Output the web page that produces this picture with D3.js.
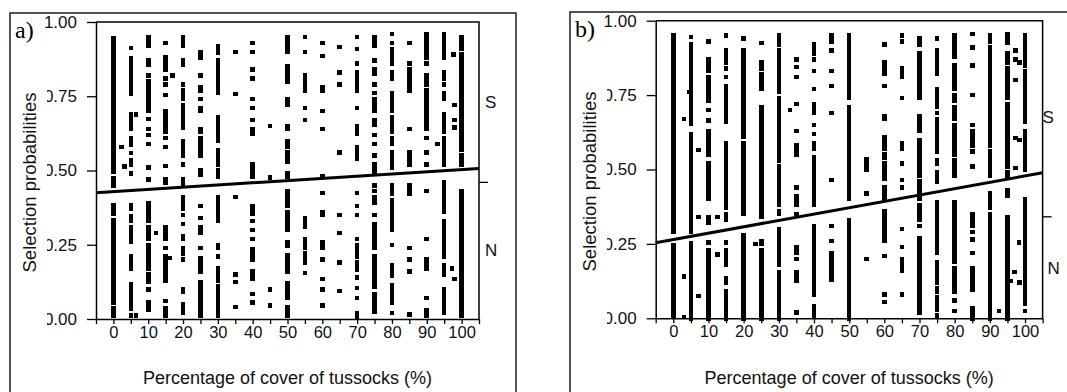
<!DOCTYPE html>
<html>
<head>
<meta charset="utf-8">
<script src="https://cdn.jsdelivr.net/npm/d3@7"></script>
<style>
  body { margin: 0; background: #fff; }
  svg { display: block; }
</style>
</head>
<body>
<svg id="chart" width="1067" height="392"></svg>
<script>
// cover classes (%) on which the observations sit
const coverLevels = [0, 5, 10, 15, 20, 25, 30, 35, 40, 45, 50, 55, 60, 65, 70, 75, 80, 85, 90, 95, 100];
const xTickValues = [-5, 0, 5, 10, 15, 20, 25, 30, 35, 40, 45, 50, 55, 60, 65, 70, 75, 80, 85, 90, 95, 100, 105];
const yTickValues = [0, 0.25, 0.5, 0.75, 1];

// runs of stacked points per cover class: [upper, lower] probability or a single value
const runsA = [
  [[0.946, 0.497], [0.475, 0.450], [0.383, 0.354], [0.331, 0.282], [0.268, 0.139], [0.124, 0.053], [0.035, 0.012]],
  [0.912, [0.879, 0.757], [0.688, 0.64], [0.61, 0.585], 0.559, [0.536, 0.518], 0.49, [0.383, 0.37], [0.345, 0.33], [0.31, 0.26], 0.21, [0.195, 0.17], [0.117, 0.06], [0.048, 0.035], 0.012],
  [[0.95, 0.92], [0.87, 0.855], 0.82, [0.80, 0.776], [0.76, 0.735], [0.72, 0.70], 0.674, 0.64, 0.62, 0.59, 0.51, 0.47, [0.39, 0.33], [0.31, 0.27], [0.25, 0.21], [0.20, 0.17], [0.15, 0.125], 0.10, [0.055, 0.03]],
  [0.93, [0.88, 0.84], 0.81, 0.79, 0.755, [0.70, 0.63], 0.61, 0.58, 0.516, [0.47, 0.46], [0.31, 0.27], 0.24, [0.21, 0.18], [0.17, 0.13], 0.06, [0.035, 0.01]],
  [[0.95, 0.92], [0.87, 0.855], 0.79, [0.77, 0.74], [0.72, 0.68], [0.67, 0.645], [0.60, 0.55], 0.52, [0.47, 0.455], [0.41, 0.37], 0.35, 0.32, [0.28, 0.27], [0.24, 0.22], 0.20, [0.10, 0.09], [0.05, 0.02]],
  [[0.90, 0.88], 0.82, [0.78, 0.77], 0.74, [0.71, 0.70], [0.64, 0.63], [0.61, 0.55], [0.50, 0.485], 0.38, 0.34, [0.31, 0.29], 0.24, [0.205, 0.16], [0.125, 0.075], [0.06, 0.01]],
  [[0.92, 0.895], [0.87, 0.82], [0.81, 0.76], [0.68, 0.63], [0.62, 0.60], [0.57, 0.52], [0.50, 0.48], [0.41, 0.38], [0.37, 0.33], [0.25, 0.24], 0.21, [0.17, 0.13], [0.11, 0.09], [0.085, 0.01]],
  [0.90, 0.757, 0.41, 0.15, 0.125, 0.04],
  [0.93, 0.90, 0.84, 0.81, 0.74, 0.71, 0.67, [0.64, 0.625], [0.52, 0.48], [0.38, 0.355], 0.33, 0.30, 0.27, [0.235, 0.20], [0.16, 0.135], 0.085, 0.055],
  [0.65, 0.476, 0.10, 0.045],
  [[0.95, 0.90], [0.85, 0.80], [0.74, 0.72], [0.65, 0.64], [0.60, 0.58], [0.56, 0.53], [0.49, 0.48], [0.43, 0.38], [0.36, 0.30], [0.26, 0.245], [0.215, 0.16], [0.12, 0.07], [0.04, 0.01]],
  [0.95, 0.90, [0.82, 0.77], 0.71, 0.67, [0.34, 0.31], [0.27, 0.24], [0.22, 0.19], 0.155],
  [0.93, 0.885, [0.78, 0.77], 0.70, 0.64, 0.48, 0.425, [0.36, 0.35], [0.26, 0.24], 0.20, 0.135, 0.10, 0.045],
  [0.915, 0.83, 0.79, 0.56, 0.35, 0.29, 0.19, 0.095],
  [0.95, 0.91, 0.86, [0.83, 0.77], 0.71, [0.65, 0.625], [0.58, 0.54], 0.425, 0.38, 0.35, 0.27, [0.25, 0.21], [0.19, 0.165], 0.14, 0.105, 0.07, [0.02, 0.005]],
  [[0.95, 0.92], 0.87, [0.84, 0.825], 0.79, 0.76, [0.74, 0.70], [0.67, 0.655], 0.62, 0.59, 0.55, [0.52, 0.49], 0.45, 0.43, [0.41, 0.39], 0.35, [0.32, 0.24], 0.21, [0.20, 0.11], [0.085, 0.025]],
  [0.96, 0.93, [0.91, 0.86], [0.83, 0.81], [0.76, 0.74], [0.73, 0.70], [0.68, 0.63], [0.61, 0.59], [0.56, 0.51], [0.45, 0.42], [0.40, 0.30], 0.25, [0.18, 0.145], [0.115, 0.10], [0.085, 0.055], 0.02],
  [0.93, 0.86, [0.84, 0.80], [0.79, 0.77], 0.64, [0.56, 0.52], [0.45, 0.42], 0.24, 0.20, 0.16, 0.015],
  [[0.96, 0.92], [0.91, 0.88], 0.86, [0.82, 0.79], [0.77, 0.74], [0.73, 0.70], [0.69, 0.67], [0.66, 0.64], 0.61, 0.56, 0.52, 0.43, 0.27, [0.20, 0.17], 0.07, [0.03, 0.01]],
  [[0.96, 0.92], [0.91, 0.88], [0.83, 0.81], 0.79, [0.76, 0.74], [0.69, 0.63], [0.61, 0.57], [0.56, 0.52], [0.46, 0.36], [0.33, 0.31], [0.30, 0.21], [0.18, 0.15], [0.10, 0.02]],
  [[0.95, 0.91], [0.89, 0.875], [0.865, 0.72], [0.71, 0.57], [0.55, 0.52], [0.43, 0.30], [0.29, 0.13], [0.12, 0.01]]
];
// single points off the cover classes: [cover, probability]
const extrasA = [[6.5, 0.688], [2.4, 0.58], [3.1, 0.513], [6.5, 0.012], [12.2, 0.29], [16.9, 0.82], [16.3, 0.205],
  [93.1, 0.59], [97.6, 0.89], [98, 0.72], [98, 0.67], [98, 0.645], [97.3, 0.17], [98, 0.135]];
const fitA = [[-5, 0.425], [105, 0.507]];
const cutA = 0.46;

const runsB = [
  [[0.95, 0.29], [0.245, 0.005]],
  [0.945, [0.92, 0.655], [0.62, 0.55], [0.54, 0.29], [0.254, 0.0]],
  [0.93, [0.87, 0.83], [0.81, 0.73], 0.70, 0.665, [0.63, 0.61], [0.60, 0.55], [0.52, 0.40], [0.34, 0.32], 0.255, [0.23, 0.0]],
  [0.95, [0.90, 0.86], 0.84, 0.81, [0.78, 0.66], [0.59, 0.37], [0.35, 0.33], 0.255, [0.23, 0.18], [0.135, 0.12], [0.09, 0.06], [0.05, 0.0]],
  [0.94, [0.90, 0.61], [0.59, 0.35], [0.28, 0.26], [0.245, 0.19], [0.18, 0.11], [0.10, 0.0]],
  [0.925, [0.86, 0.84], [0.82, 0.77], [0.71, 0.34], [0.26, 0.25], [0.23, 0.0]],
  [[0.95, 0.92], [0.90, 0.76], [0.74, 0.62], [0.61, 0.53], [0.51, 0.38], [0.36, 0.35], [0.30, 0.18], [0.155, 0.0]],
  [0.87, 0.845, 0.81, 0.72, 0.63, [0.58, 0.55], 0.44, [0.41, 0.38], 0.35, [0.24, 0.22], 0.20, [0.155, 0.125], 0.02],
  [[0.92, 0.89], 0.87, 0.83, 0.77, [0.72, 0.69], 0.65, 0.62, [0.59, 0.57], [0.54, 0.44], [0.43, 0.38], [0.31, 0.08], [0.04, 0.005]],
  [[0.95, 0.93], 0.90, 0.83, 0.78, 0.69, 0.465, 0.31, 0.26, [0.22, 0.13]],
  [[0.95, 0.89], [0.88, 0.74], [0.71, 0.67], [0.66, 0.40], [0.33, 0.0]],
  [[0.535, 0.50], 0.42, 0.20],
  [0.92, [0.86, 0.82], 0.78, [0.68, 0.67], [0.61, 0.57], [0.55, 0.54], [0.52, 0.47], [0.44, 0.40], [0.36, 0.26], 0.21, 0.08, 0.055],
  [0.95, 0.93, [0.84, 0.81], 0.74, [0.59, 0.57], 0.52, 0.465, 0.44, 0.30, 0.24, [0.20, 0.16], 0.08],
  [[0.94, 0.92], [0.89, 0.74], [0.68, 0.63], [0.60, 0.58], [0.57, 0.52], [0.51, 0.48], [0.46, 0.40], [0.38, 0.33], 0.31, [0.27, 0.14], [0.135, 0.02]],
  [0.94, [0.90, 0.82], [0.77, 0.71], 0.69, [0.67, 0.61], [0.60, 0.56], [0.53, 0.52], [0.49, 0.46], [0.39, 0.22], [0.19, 0.12], [0.10, 0.09], [0.07, 0.03], 0.01],
  [[0.95, 0.88], [0.85, 0.77], [0.75, 0.73], [0.71, 0.67], [0.65, 0.63], [0.62, 0.60], [0.59, 0.55], [0.53, 0.48], [0.39, 0.19], [0.17, 0.09], 0.06, 0.025],
  [0.955, 0.91, 0.85, 0.75, 0.65, [0.63, 0.58], 0.56, 0.51, [0.35, 0.31], 0.29, 0.265, 0.22, [0.17, 0.095], [0.035, 0.0]],
  [[0.95, 0.93], [0.91, 0.88], [0.87, 0.67], [0.665, 0.58], [0.56, 0.48], [0.42, 0.37], [0.35, 0.17], [0.16, 0.0]],
  [[0.955, 0.925], [0.89, 0.86], [0.84, 0.79], [0.775, 0.74], [0.72, 0.67], [0.66, 0.60], [0.59, 0.51], [0.49, 0.48], [0.43, 0.41], [0.34, 0.32], [0.31, 0.06], [0.05, 0.0]],
  [[0.95, 0.85], [0.83, 0.78], [0.77, 0.66], [0.63, 0.50], [0.40, 0.35], [0.34, 0.27], [0.265, 0.095], [0.09, 0.05], 0.025]
];
const extrasB = [[4.5, 0.76], [3.0, 0.67], [7.1, 0.565], [7.1, 0.34], [3.0, 0.14], [3.0, 0.005], [7.1, 0.075],
  [12.6, 0.34], [12.6, 0.215], [23.3, 0.25], [33.2, 0.70],
  [97.3, 0.90], [97.3, 0.87], [98.4, 0.86], [97.3, 0.80], [97.3, 0.605], [98.4, 0.60], [97.3, 0.505],
  [98.3, 0.255], [97, 0.155], [96, 0.125], [98.4, 0.12], [92.6, 0.025]];
const fitB = [[-5, 0.254], [105, 0.489]];
const cutB = 0.341;

const SANS = '"Liberation Sans", Arial, Helvetica, sans-serif';
const SERIF = '"Liberation Serif", "Times New Roman", serif';

const svg = d3.select('#chart');

const panels = [
  { tag: 'a)', runs: runsA, extras: extrasA, fit: fitA, cut: cutA,
    frame: { x: 10, y: 13, w: 506 }, left: 96, right: 479, top: 22, bottom: 319,
    sY: 101.7, nY: 250, sX: 485, nX: 485 },
  { tag: 'b)', runs: runsB, extras: extrasB, fit: fitB, cut: cutB,
    frame: { x: 570, y: 12, w: 520 }, left: 655.7, right: 1042.6, top: 20.7, bottom: 318.3,
    sY: 116.7, nY: 268.3, sX: 1042.5, nX: 1047.5 }
];

panels.forEach(drawPanel);

function drawPanel(p) {
  const x = d3.scaleLinear().domain([-5, 105]).range([p.left, p.right]);
  const y = d3.scaleLinear().domain([0, 1]).range([p.bottom, p.top]);
  const g = svg.append('g');

  // outer frame (bottom edge runs off the picture)
  g.append('rect')
    .attr('x', p.frame.x).attr('y', p.frame.y)
    .attr('width', p.frame.w).attr('height', 420)
    .attr('fill', 'none').attr('stroke', '#2b2b2b').attr('stroke-width', 1.6);

  // point stacks
  const marks = p.runs.flatMap((col, i) => col.map((r) => {
    const [a, b] = typeof r === 'number' ? [r, r] : r;
    return { x: coverLevels[i], hi: Math.max(a, b), lo: Math.min(a, b) };
  })).concat(p.extras.map(([cx, cy]) => ({ x: cx, hi: cy, lo: cy })));

  g.append('g')
    .selectAll('rect')
    .data(marks)
    .join('rect')
    .attr('x', (d) => x(d.x) - 2.3)
    .attr('width', 4.6)
    .attr('y', (d) => y(d.hi) - 2.2)
    .attr('height', (d) => y(d.lo) - y(d.hi) + 4.4)
    .attr('fill', '#000')
    .attr('shape-rendering', 'crispEdges');

  // fitted line
  g.append('path')
    .datum(p.fit)
    .attr('d', d3.line().x((d) => x(d[0])).y((d) => y(d[1])))
    .attr('fill', 'none').attr('stroke', '#000').attr('stroke-width', 3);

  // top and right edges of the plot box
  g.append('path')
    .attr('d', `M${p.left},${p.top}H${p.right}V${p.bottom}`)
    .attr('fill', 'none').attr('stroke', '#000').attr('stroke-width', 1.5);

  const xAxis = g.append('g')
    .attr('transform', `translate(0,${p.bottom})`)
    .call(d3.axisBottom(x)
      .tickValues(xTickValues)
      .tickSize(5).tickSizeOuter(0).tickPadding(2)
      .tickFormat((d) => (d >= 0 && d <= 100 && d % 10 === 0 ? d : '')));

  const yAxis = g.append('g')
    .attr('transform', `translate(${p.left},0)`)
    .call(d3.axisLeft(y)
      .tickValues(yTickValues)
      .tickSize(9).tickSizeOuter(0).tickPadding(10)
      .tickFormat(d3.format('.2f')));

  [xAxis, yAxis].forEach((ax) => {
    ax.attr('font-family', SANS);
    ax.select('.domain').attr('stroke-width', 1.5);
    ax.selectAll('.tick line').attr('stroke-width', 1.3);
    ax.selectAll('.tick text').attr('fill', '#111');
  });
  xAxis.attr('font-size', 16.5);
  yAxis.attr('font-size', 17);

  // the y title box hides the start of the lower tick labels
  g.append('rect')
    .attr('x', p.frame.x + 1).attr('y', 40)
    .attr('width', 36).attr('height', 300)
    .attr('fill', '#fff');

  g.append('text')
    .attr('transform', `translate(${p.frame.x + 20},${(p.top + p.bottom) / 2 + 12}) rotate(-90)`)
    .attr('text-anchor', 'middle').attr('dy', '0.35em')
    .attr('font-family', SANS).attr('font-size', 18.5).attr('fill', '#111')
    .text('Selection probabilities');

  g.append('text')
    .attr('x', (p.left + p.right) / 2).attr('y', 384)
    .attr('text-anchor', 'middle')
    .attr('font-family', SANS).attr('font-size', 18).attr('fill', '#111')
    .text('Percentage of cover of tussocks (%)');

  g.append('text')
    .attr('x', p.frame.x + 5).attr('y', p.frame.y + 25)
    .attr('font-family', SERIF).attr('font-size', 24).attr('fill', '#000')
    .text(p.tag);

  // S / N split marker on the right
  g.append('line')
    .attr('x1', p.right).attr('x2', p.right + 9)
    .attr('y1', y(p.cut)).attr('y2', y(p.cut))
    .attr('stroke', '#000').attr('stroke-width', 1.3);

  g.append('text')
    .attr('x', p.sX).attr('y', p.sY).attr('dy', '0.35em')
    .attr('font-family', SANS).attr('font-size', 17).attr('fill', '#111')
    .text('S');

  g.append('text')
    .attr('x', p.nX).attr('y', p.nY).attr('dy', '0.35em')
    .attr('font-family', SANS).attr('font-size', 17).attr('fill', '#111')
    .text('N');
}
</script>
</body>
</html>
